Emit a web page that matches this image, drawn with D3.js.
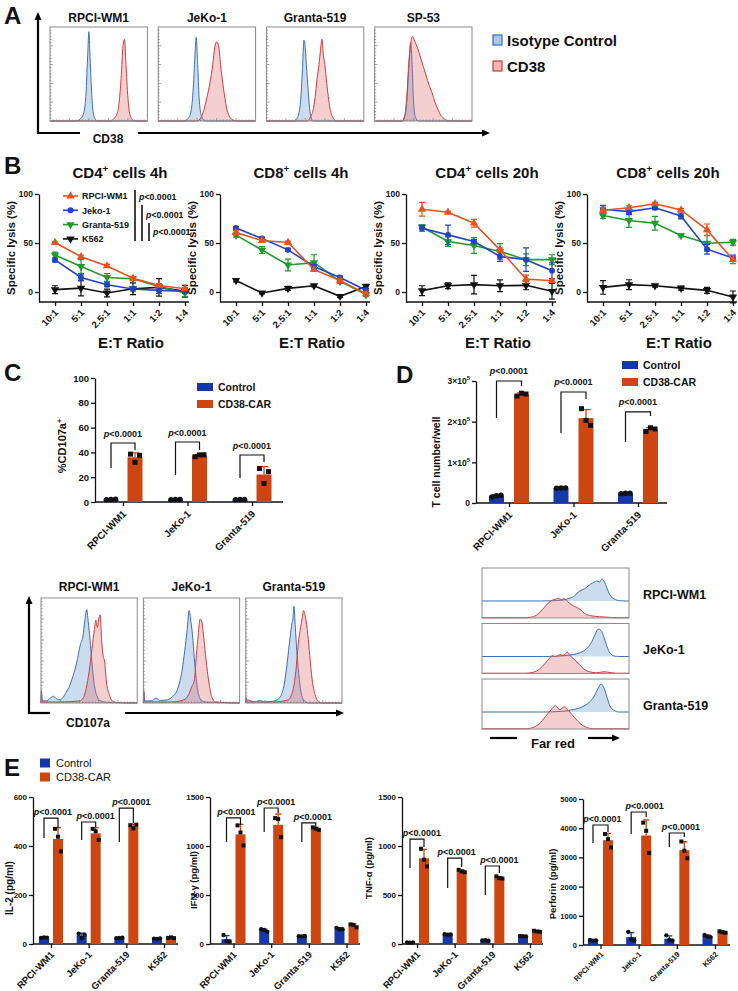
<!DOCTYPE html>
<html><head><meta charset="utf-8">
<script src="https://cdn.jsdelivr.net/npm/d3@7"></script>
<style>body{margin:0;background:#fff}svg{display:block}text{font-family:"Liberation Sans",Arial,sans-serif}</style>
</head><body><svg id="fig" width="738" height="991"></svg>
<script>
// ================= DATA =================
// Panel A: flow histograms (x: relative fluorescence 0..1, y: relative count 0..1)
const cellsA = ["RPCI-WM1","JeKo-1","Granta-519","SP-53"];
const isoA = [
 [[0.26,0],[0.32,0.03],[0.35,0.1],[0.37,0.3],[0.385,0.65],[0.40,0.95],[0.41,0.7],[0.425,0.35],[0.44,0.12],[0.46,0.03],[0.49,0]],
 [[0.26,0],[0.31,0.03],[0.34,0.12],[0.36,0.35],[0.38,0.75],[0.39,0.89],[0.405,0.6],[0.42,0.25],[0.44,0.07],[0.47,0.01],[0.5,0]],
 [[0.28,0],[0.32,0.04],[0.35,0.2],[0.37,0.55],[0.385,0.86],[0.395,0.82],[0.41,0.6],[0.43,0.3],[0.45,0.08],[0.48,0]],
 [[0.28,0],[0.31,0.05],[0.33,0.2],[0.35,0.55],[0.37,0.84],[0.385,0.6],[0.40,0.2],[0.42,0.04],[0.45,0]]
];
const cd38A = [
 [[0.62,0],[0.66,0.03],[0.69,0.08],[0.71,0.2],[0.73,0.45],[0.75,0.8],[0.765,0.87],[0.78,0.6],[0.80,0.25],[0.82,0.07],[0.85,0.01],[0.88,0]],
 [[0.40,0],[0.44,0.04],[0.47,0.12],[0.50,0.25],[0.53,0.4],[0.56,0.6],[0.58,0.78],[0.60,0.84],[0.62,0.8],[0.64,0.6],[0.67,0.35],[0.70,0.15],[0.73,0.05],[0.77,0.01],[0.82,0]],
 [[0.42,0],[0.45,0.04],[0.48,0.12],[0.50,0.25],[0.52,0.45],[0.54,0.6],[0.555,0.75],[0.57,0.87],[0.585,0.7],[0.60,0.6],[0.62,0.4],[0.65,0.15],[0.68,0.04],[0.72,0]],
 [[0.28,0],[0.31,0.06],[0.33,0.25],[0.35,0.6],[0.37,0.82],[0.39,0.9],[0.41,0.85],[0.44,0.78],[0.47,0.68],[0.50,0.58],[0.53,0.48],[0.56,0.38],[0.59,0.3],[0.62,0.2],[0.65,0.12],[0.68,0.06],[0.72,0.02],[0.76,0]]
];

// Panel B: specific lysis (%)
const ratios = ["10:1","5:1","2.5:1","1:1","1:2","1:4"];
const lysisLines = ["RPCI-WM1","Jeko-1","Granta-519","K562"];
const cd4_4h    = [[50.5,36,26.6,14,6.7,3.4],[32.7,14.8,7.4,3,1.7,0.7],[37.7,26,14.8,13.5,5.7,-1],[2.4,4,-1,3.4,4.7,0.7]];
const cd4_4h_sd = [[1,1.5,1.5,1.5,1,1],[2,3.5,2,2,3,2.5],[3,7,4,2,3,4],[4,8,4,6,9,6]];
const cd8_4h    = [[60.6,52.5,50.5,23,11.8,-2],[65.3,54.5,43,26,14.8,1.7],[58,42.8,27.6,30,10.8,-2.7],[11.8,-1,3.7,6.4,-4.4,5.7]];
const cd8_4h_sd = [[2,1.5,1.5,2,1.5,2],[1.5,1.5,1.5,2,1.5,2],[2,3.5,6,8,2,2],[1.5,1,2,1,1,2]];
const cd4_20h    = [[84.4,81.4,70.2,43,13.2,11.5],[65,58.3,51.5,36.3,33,21.7],[66.4,51.5,47.5,41.4,33,33],[1.4,6.4,7.5,6.4,6.8,0.7]];
const cd4_20h_sd = [[7,1,4,2,4,1.5],[3,10,2,5,12,8],[2,5,8,8,6,5],[5,3,9.5,6,4.5,8]];
const cd8_20h    = [[83.4,86,90,83.7,63.4,33],[84.4,82,86,77.6,43.7,34.6],[78,73,70.2,57.6,49.8,50.8],[4.7,7.5,6.4,4,1.7,-5]];
const cd8_20h_sd = [[3,2,1.5,1.5,6,4],[4,3,2,3,5,3],[3,7,7,1.5,8,3],[7,5,1.5,2,3,6]];

// Panel C: %CD107a+ (replicates); brackets: [left leg end, top, right leg end]
const groups = ["Control","CD38-CAR"];
const cd107Cells = ["RPCI-WM1","JeKo-1","Granta-519"];
const cd107Ctrl = [[1.8,2.0,2.2],[1.9,2.0,2.1],[1.8,2.1,2.0]];
const cd107Car  = [[38.6,32.0,37.6],[36.5,38.0,38.1],[27.0,15.0,24.5]];
const cd107P    = [[27.4,47.6,41.9],[21.8,48.4,41.9],[19.4,37.9,32.3]];
// Panel C lower: CD107a histograms
const cd107HistCtrl = [
 [[0.004,0.12],[0.012,0.02],[0.06,0.02],[0.10,0.05],[0.13,0.065],[0.16,0.04],[0.20,0.03],[0.26,0.1],[0.30,0.17],[0.33,0.25],[0.37,0.38],[0.41,0.56],[0.435,0.63],[0.455,0.78],[0.475,0.89],[0.49,0.78],[0.51,0.6],[0.53,0.38],[0.55,0.2],[0.58,0.07],[0.62,0.02],[0.7,0.005]],
 [[0.004,0.1],[0.012,0.02],[0.08,0.02],[0.13,0.045],[0.17,0.025],[0.25,0.03],[0.3,0.06],[0.35,0.12],[0.40,0.3],[0.43,0.5],[0.455,0.7],[0.475,0.88],[0.49,0.8],[0.51,0.65],[0.53,0.42],[0.56,0.15],[0.59,0.04],[0.64,0.01]],
 [[0.004,0.05],[0.012,0.01],[0.1,0.01],[0.14,0.025],[0.2,0.01],[0.3,0.02],[0.36,0.06],[0.40,0.18],[0.43,0.38],[0.46,0.62],[0.48,0.76],[0.49,0.8],[0.50,0.92],[0.515,0.72],[0.53,0.5],[0.55,0.28],[0.575,0.1],[0.6,0.03],[0.65,0]]
];
const cd107HistCar = [
 [[0.004,0.1],[0.012,0.01],[0.2,0.01],[0.4,0.02],[0.44,0.05],[0.47,0.14],[0.50,0.3],[0.53,0.52],[0.555,0.7],[0.57,0.79],[0.585,0.72],[0.60,0.8],[0.615,0.84],[0.63,0.6],[0.645,0.45],[0.66,0.4],[0.68,0.2],[0.71,0.08],[0.74,0.02],[0.78,0.005]],
 [[0.004,0.12],[0.012,0.01],[0.3,0.01],[0.42,0.03],[0.47,0.08],[0.5,0.15],[0.53,0.22],[0.55,0.45],[0.57,0.65],[0.59,0.8],[0.605,0.78],[0.63,0.6],[0.65,0.42],[0.68,0.2],[0.71,0.06],[0.75,0.01]],
 [[0.004,0.03],[0.1,0.01],[0.3,0.01],[0.44,0.03],[0.49,0.12],[0.52,0.3],[0.55,0.6],[0.57,0.72],[0.585,0.8],[0.60,0.88],[0.62,0.82],[0.645,0.65],[0.665,0.45],[0.69,0.22],[0.72,0.08],[0.76,0.01],[0.8,0]]
];

// Panel D: T cell number/well
const tcellCells = ["RPCI-WM1","JeKo-1","Granta-519"];
const tcellCtrl = [[15000,18000,19000],[36000,37000,37000],[23000,24000,24000]];
const tcellCar  = [[263000,270000,268000],[232000,203000,191000],[176000,185000,182000]];
const tcellP    = [[209000,300000,288000],[172000,273000,256000],[150000,224000,214000]];
// Panel D lower: Far red histograms (blue = Control, red = CD38-CAR)
const farRedCtrl = [
 [[0.4,0],[0.48,0.005],[0.55,0.02],[0.6,0.06],[0.63,0.1],[0.655,0.18],[0.68,0.22],[0.71,0.27],[0.74,0.34],[0.765,0.38],[0.78,0.4],[0.80,0.38],[0.815,0.44],[0.83,0.4],[0.85,0.26],[0.87,0.12],[0.9,0.04],[0.94,0.005],[0.98,0]],
 [[0.42,0],[0.55,0.015],[0.62,0.04],[0.67,0.08],[0.71,0.15],[0.74,0.26],[0.77,0.44],[0.79,0.55],[0.81,0.52],[0.83,0.38],[0.85,0.2],[0.87,0.07],[0.9,0.01],[0.93,0]],
 [[0.42,0],[0.55,0.015],[0.62,0.05],[0.68,0.1],[0.72,0.17],[0.76,0.3],[0.79,0.47],[0.81,0.56],[0.83,0.48],[0.85,0.3],[0.87,0.12],[0.9,0.03],[0.93,0]]
];
const farRedCar = [
 [[0.28,0],[0.33,0.01],[0.37,0.05],[0.41,0.16],[0.44,0.26],[0.47,0.34],[0.50,0.37],[0.52,0.39],[0.54,0.36],[0.56,0.38],[0.59,0.3],[0.62,0.24],[0.65,0.2],[0.67,0.16],[0.70,0.08],[0.74,0.04],[0.8,0.02],[0.88,0.005],[0.93,0]],
 [[0.3,0],[0.35,0.02],[0.39,0.08],[0.43,0.2],[0.46,0.3],[0.48,0.35],[0.50,0.33],[0.53,0.37],[0.555,0.36],[0.58,0.42],[0.60,0.35],[0.63,0.27],[0.66,0.18],[0.69,0.09],[0.73,0.03],[0.78,0.01],[0.83,0.03],[0.88,0.01],[0.92,0]],
 [[0.3,0],[0.35,0.03],[0.39,0.1],[0.43,0.24],[0.47,0.38],[0.50,0.46],[0.53,0.38],[0.56,0.44],[0.59,0.36],[0.63,0.22],[0.67,0.1],[0.71,0.03],[0.76,0]]
];

// Panel E: cytokines (pg/ml)
const cytoCells = ["RPCI-WM1","JeKo-1","Granta-519","K562"];
const il2Ctrl = [[25,27,26],[42,25,38],[24,25,26],[22,21,23]];
const il2Car  = [[470,438,378],[470,460,425],[485,472,487],[25,27,24]];
const il2P    = [[433,514,473],[424,498,478],[416,555,494]];
const ifnCtrl = [[92,31,24],[150,143,126],[80,78,82],[165,150,150]];
const ifnCar  = [[1210,1138,1006],[1285,1275,1090],[1190,1175,1165],[200,195,170]];
const ifnP    = [[1041,1286,1214],[1143,1388,1337],[1041,1235,1194]];
const tnfCtrl = [[15,14,16],[100,95,98],[35,38,33],[82,80,78]];
const tnfCar  = [[972,860,791],[757,740,733],[690,672,668],[135,128,125]];
const tnfP    = [[776,1071,990],[571,877,786],[500,796,724]];
const perfCtrl = [[170,150,160],[450,200,160],[330,170,150],[340,290,270]];
const perfCar  = [[3800,3625,3340],[4190,3910,3150],[3545,3230,2970],[470,440,420]];
const perfP    = [[3493,4110,3870],[3802,4555,4384],[3356,3836,3699]];

// ================= DRAWING =================
const svg = d3.select("#fig");
const FONT = '"Liberation Sans", Arial, sans-serif';
const lysisColors = ["#E8521F","#2343C6","#1F9A2C","#111111"];
const BAR_CTRL = "#1637A8", BAR_CAR = "#CD4511";
const ISO_FILL = "rgba(100,150,205,0.33)", ISO_STROKE = "#3B6FB6";
const RED_FILL = "rgba(225,105,110,0.33)", RED_STROKE = "#CF3D3F";
const intFmt = d3.format("d");

function text(x,y,s,size,weight="bold",anchor="start",g=svg){
  return g.append("text").attr("x",x).attr("y",y).attr("font-size",size)
    .attr("font-weight",weight).attr("text-anchor",anchor).attr("fill","#111").text(s);
}
function supText(x,y,main,sup,rest,size,anchor="middle",rot=null){
  const t=svg.append("text").attr("x",x).attr("y",y).attr("font-size",size).attr("font-weight","bold")
    .attr("text-anchor",anchor).attr("fill","#111");
  if(rot) t.attr("transform",rot);
  t.append("tspan").text(main);
  t.append("tspan").attr("dy",-size*0.4).attr("font-size",size*0.65).text(sup);
  if(rest) t.append("tspan").attr("dy",size*0.4).text(rest);
  return t;
}
function pText(g,x,y,size){
  const t=g.append("text").attr("x",x).attr("y",y).attr("font-size",size).attr("font-weight","bold")
    .attr("text-anchor","middle").attr("fill","#111");
  t.append("tspan").attr("font-style","italic").text("p");
  t.append("tspan").text("<0.0001");
  return t;
}
function arrow(x1,y1,x2,y2,w=2.2,hl=8,hw=7){
  const dx=x2-x1, dy=y2-y1, L=Math.hypot(dx,dy), ux=dx/L, uy=dy/L;
  const bx=x2-ux*hl, by=y2-uy*hl;
  svg.append("line").attr("x1",x1).attr("y1",y1).attr("x2",bx).attr("y2",by).attr("stroke","#000").attr("stroke-width",w);
  svg.append("path").attr("d",`M${x2},${y2}L${bx-uy*hw/2},${by+ux*hw/2}L${bx+uy*hw/2},${by-ux*hw/2}Z`).attr("fill","#000");
}
function seg(x1,y1,x2,y2,w=2.2,col="#000"){
  svg.append("line").attr("x1",x1).attr("y1",y1).attr("x2",x2).attr("y2",y2).attr("stroke",col).attr("stroke-width",w);
}
function styleAxis(g,size){
  g.attr("font-family",FONT).attr("font-size",size).attr("font-weight","bold");
  g.selectAll("path,line").attr("stroke","#111").attr("stroke-width",1.3);
  g.selectAll("text").attr("fill","#111");
}
function rotateTicks(g,sx,sy){
  const a=0.7071*(sx-sy), b=0.7071*(sx+sy);
  g.selectAll(".tick text").attr("transform","rotate(-45)").attr("text-anchor","end")
    .attr("x",a).attr("y",b).attr("dy","0.35em");
}
function drawHist(x0,y0,w,h,curves,ticks){
  const g=svg.append("g");
  const xs=d3.scaleLinear().domain([0,1]).range([x0,x0+w]);
  curves.forEach(c=>{
    const yb=y0+h-c.base*h;
    const ys=d3.scaleLinear().domain([0,1]).range([yb,yb-h]);
    const pts=[[0,0],...c.data,[1,0]];
    const area=d3.area().x(d=>xs(d[0])).y0(yb).y1(d=>ys(d[1])).curve(d3.curveMonotoneX);
    const line=d3.line().x(d=>xs(d[0])).y(d=>ys(d[1])).curve(d3.curveMonotoneX);
    g.append("path").attr("d",area(pts)).attr("fill",c.fill);
    g.append("path").attr("d",line(pts)).attr("fill","none").attr("stroke",c.stroke).attr("stroke-width",c.sw||1);
  });
  g.append("rect").attr("x",x0).attr("y",y0).attr("width",w).attr("height",h)
    .attr("fill","none").attr("stroke","#8a8a8a").attr("stroke-width",1);
  if(ticks){
    for(let i=1;i<30;i++){
      const L=(i%6===0)?3:1.5;
      const yy=y0+h-i*h/30;
      g.append("line").attr("x1",x0).attr("x2",x0+L).attr("y1",yy).attr("y2",yy).attr("stroke","#777").attr("stroke-width",0.7);
      const xx=x0+i*w/30;
      g.append("line").attr("x1",xx).attr("x2",xx).attr("y1",y0+h).attr("y2",y0+h-L).attr("stroke","#777").attr("stroke-width",0.7);
    }
  }
}

// ---------- Panel A ----------
text(4,24,"A",24);
const bandA=d3.scaleBand().domain(cellsA).range([50,472]).paddingInner(0.1);
cellsA.forEach((c,i)=>{
  const x0=bandA(c), w=bandA.bandwidth();
  text(x0+w/2,22,c,12,"bold","middle");
  drawHist(x0,27,w,94,[
    {base:0,data:isoA[i],fill:ISO_FILL,stroke:ISO_STROKE},
    {base:0,data:cd38A[i],fill:RED_FILL,stroke:RED_STROKE}],true);
});
arrow(38,134,38,12);
seg(37,133,80,133);
text(108,143,"CD38",12,"bold","middle");
arrow(138,133,490,133);
// legend A
svg.append("rect").attr("x",493).attr("y",35).attr("width",9).attr("height",10).attr("fill","#A9C8EA").attr("stroke","#2E6FC0").attr("stroke-width",1.2);
text(507,46,"Isotype Control",15);
svg.append("rect").attr("x",493).attr("y",61).attr("width",9).attr("height",10).attr("fill","#F2B5B5").attr("stroke","#C83A3A").attr("stroke-width",1.2);
text(507,72,"CD38",15);

// ---------- Panel B ----------
text(4,174,"B",24);
const symUp=d3.symbol().type(d3.symbolTriangle).size(30)();
const symCircle=d3.symbol().type(d3.symbolCircle).size(28)();
const lysisSyms=[symUp,symCircle,symUp,symUp];
const lysisRot=[0,0,180,180];

function lysisChart(ax,cd,sup,time,means,sds,legend){
  const g=svg.append("g");
  const x=d3.scalePoint().domain(ratios).range([ax+16,ax+146]);
  const y=d3.scaleLinear().domain([-10.2,100]).range([302,194]);
  const yg=g.append("g").attr("transform",`translate(${ax},0)`)
    .call(d3.axisLeft(y).tickValues([0,50,100]).tickSize(4).tickSizeOuter(0).tickPadding(2));
  styleAxis(yg,8.5);
  const xg=g.append("g").attr("transform","translate(0,302)")
    .call(d3.axisBottom(x).tickSize(4).tickSizeOuter(0));
  xg.select(".domain").remove();
  styleAxis(xg,9.5);
  rotateTicks(xg,1,9);
  g.append("line").attr("x1",ax).attr("x2",ax+150).attr("y1",302).attr("y2",302).attr("stroke","#111").attr("stroke-width",1.3);
  [3,2,1,0].forEach(i=>{
    const col=lysisColors[i];
    const line=d3.line().x((d,k)=>x(ratios[k])).y(d=>y(d));
    g.append("path").attr("d",line(means[i])).attr("fill","none").attr("stroke",col).attr("stroke-width",1.6);
    means[i].forEach((m,k)=>{
      const s=sds[i][k], cx=x(ratios[k]);
      g.append("path").attr("d",`M${cx},${y(m-s)}V${y(m+s)}M${cx-3},${y(m-s)}H${cx+3}M${cx-3},${y(m+s)}H${cx+3}`)
        .attr("stroke",col).attr("stroke-width",1.2).attr("fill","none");
    });
    g.selectAll(null).data(means[i]).enter().append("path").attr("d",lysisSyms[i])
      .attr("transform",(d,k)=>`translate(${x(ratios[k])},${y(d)}) rotate(${lysisRot[i]})`).attr("fill",col);
  });
  supText(ax+81,178,cd,"+"," cells "+time,15);
  svg.append("text").attr("transform",`translate(${ax-24},248) rotate(-90)`).attr("text-anchor","middle")
    .attr("font-size",11.5).attr("font-weight","bold").attr("fill","#111").text("Specific lysis (%)");
  text(ax+92,348,"E:T Ratio",15,"bold","middle");
  if(legend){
    lysisLines.forEach((s,i)=>{
      const yy=196+i*14.3;
      g.append("line").attr("x1",ax+24).attr("x2",ax+39).attr("y1",yy).attr("y2",yy).attr("stroke",lysisColors[i]).attr("stroke-width",1.6);
      g.append("path").attr("d",lysisSyms[i]).attr("transform",`translate(${ax+31.5},${yy}) rotate(${lysisRot[i]})`).attr("fill",lysisColors[i]);
      text(ax+43,yy+3.2,s,9,"bold","start",g);
    });
    const bx=[ax+96,ax+103,ax+110], btop=[190,205,223], tb=[200,218,235];
    bx.forEach((b,i)=>{
      g.append("line").attr("x1",b).attr("x2",b).attr("y1",btop[i]).attr("y2",241).attr("stroke","#111").attr("stroke-width",1.6);
      const t=pText(g,b+4,tb[i],8.8); t.attr("text-anchor","start");
    });
  }
}
lysisChart(39,"CD4","+","4h",cd4_4h,cd4_4h_sd,true);
lysisChart(220,"CD8","+","4h",cd8_4h,cd8_4h_sd,false);
lysisChart(406,"CD4","+","20h",cd4_20h,cd4_20h_sd,false);
lysisChart(587,"CD8","+","20h",cd8_20h,cd8_20h_sd,false);

// ---------- Bar chart helper ----------
function barChart(o){
  const g=svg.append("g");
  const y=d3.scaleLinear().domain([0,o.max]).range([o.y0,o.y1]);
  const x=d3.scalePoint().domain(o.cells).range([o.c0,o.c1]);
  const xs=d3.scalePoint().domain(groups).range([-o.off,o.off]);
  const ya=d3.axisLeft(y).tickValues(o.ticks).tickFormat(intFmt).tickSize(4).tickSizeOuter(0).tickPadding(2);
  const yg=g.append("g").attr("transform",`translate(${o.ax},0)`).call(ya);
  styleAxis(yg,o.tfs);
  if(o.sci){
    yg.selectAll(".tick text").each(function(d){
      const t=d3.select(this); t.text(null);
      if(d===0){t.text("0");return;}
      t.append("tspan").text((d/1e5)+"×10");
      t.append("tspan").attr("dy",-4).attr("font-size",6).text("5");
    });
  }
  const xg=g.append("g").attr("transform",`translate(0,${o.y0})`).call(d3.axisBottom(x).tickSize(4).tickSizeOuter(0));
  xg.select(".domain").remove();
  styleAxis(xg,o.xfs);
  rotateTicks(xg,o.lx||0,o.ly||10);
  g.append("line").attr("x1",o.ax).attr("x2",o.axEnd).attr("y1",o.y0).attr("y2",o.y0).attr("stroke","#111").attr("stroke-width",1.3);
  const sets=[o.ctrl,o.car], cols=[BAR_CTRL,BAR_CAR];
  const jit=[-0.3,0,0.3];
  o.cells.forEach((c,i)=>{
    groups.forEach((gr,j)=>{
      const vals=sets[j][i], m=d3.mean(vals), sd=d3.deviation(vals);
      const cx=x(c)+xs(gr);
      g.append("rect").attr("x",cx-o.bw/2).attr("y",y(m)).attr("width",o.bw).attr("height",o.y0-y(m)).attr("fill",cols[j]);
      g.append("path").attr("d",`M${cx},${y(m)}V${y(m+sd)}M${cx-o.bw*0.3},${y(m+sd)}H${cx+o.bw*0.3}`)
        .attr("stroke",cols[j]).attr("stroke-width",1.3).attr("fill","none");
      vals.forEach((v,k)=>{
        const px=cx+jit[k]*o.bw, py=y(v);
        if(j===0) g.append("circle").attr("cx",px).attr("cy",py).attr("r",o.ms*0.55).attr("fill","#111");
        else g.append("rect").attr("x",px-o.ms/2).attr("y",py-o.ms/2).attr("width",o.ms).attr("height",o.ms).attr("fill","#111");
      });
    });
  });
  o.p.forEach((b,i)=>{
    const xl=x(o.cells[i])+xs("Control"), xr=x(o.cells[i])+xs("CD38-CAR");
    g.append("path").attr("d",`M${xl},${y(b[0])}V${y(b[1])}H${xr}V${y(b[2])}`).attr("fill","none").attr("stroke","#111").attr("stroke-width",1.2);
    const dx=o.pdx?o.pdx[i]:0;
    pText(g,(xl+xr)/2+dx,y(b[1])-o.pgap,o.pfs);
  });
  return g;
}

// ---------- Panel C ----------
text(4,381,"C",24);
barChart({ax:95,axEnd:283,y0:502,y1:378,max:100,ticks:[0,20,40,60,80,100],tfs:9.5,xfs:10,
  cells:cd107Cells,c0:123,c1:252,off:12,bw:15,ms:5,ctrl:cd107Ctrl,car:cd107Car,p:cd107P,pgap:6,pfs:9,lx:1,ly:10});
supText(0,0,"%CD107a","+",null,11,"middle","translate(66,446) rotate(-90)");
[["Control",BAR_CTRL,387],["CD38-CAR",BAR_CAR,404]].forEach(d=>{
  svg.append("rect").attr("x",197).attr("y",d[2]-4).attr("width",16).attr("height",8).attr("fill",d[1]);
  text(218,d[2]+3.5,d[0],10.5);
});

// ---------- Panel D ----------
text(396,383,"D",24);
barChart({ax:476,axEnd:667,y0:503,y1:381,max:300000,ticks:[0,100000,200000,300000],tfs:8.5,xfs:10,sci:true,
  cells:tcellCells,c0:509,c1:638,off:12.5,bw:15,ms:5,ctrl:tcellCtrl,car:tcellCar,p:tcellP,pgap:7,pfs:9,lx:1,ly:10});
svg.append("text").attr("transform","translate(440,462) rotate(-90)").attr("text-anchor","middle")
  .attr("font-size",10.5).attr("font-weight","bold").attr("fill","#111").text("T cell number/well");
[["Control",BAR_CTRL,365],["CD38-CAR",BAR_CAR,382]].forEach(d=>{
  svg.append("rect").attr("x",622).attr("y",d[2]-4).attr("width",16).attr("height",8).attr("fill",d[1]);
  text(643,d[2]+3.5,d[0],10.5);
});

// ---------- Panel C lower: CD107a histograms ----------
const bandC=d3.scaleBand().domain(cd107Cells).range([41,342]).paddingInner(0.06);
cd107Cells.forEach((c,i)=>{
  const x0=bandC(c), w=bandC.bandwidth();
  text(x0+w/2,591,c,12,"bold","middle");
  drawHist(x0,598,w,105,[
    {base:0,data:cd107HistCtrl[i],fill:ISO_FILL,stroke:ISO_STROKE},
    {base:0,data:cd107HistCar[i],fill:RED_FILL,stroke:RED_STROKE}],true);
});
arrow(29,714,29,596);
seg(28,713,50,713);
text(88,727,"CD107a",12,"bold","middle");
arrow(125,713,344,713);

// ---------- Panel D lower: Far red histograms ----------
const bandD=d3.scaleBand().domain(tcellCells).range([568,729]).paddingInner(0.1);
tcellCells.forEach((c,i)=>{
  const y0=bandD(c), h=bandD.bandwidth();
  drawHist(482,y0,147,h,[
    {base:0.34,data:farRedCtrl[i],fill:ISO_FILL,stroke:ISO_STROKE},
    {base:0.005,data:farRedCar[i],fill:RED_FILL,stroke:RED_STROKE}],false);
  text(643,y0+h*0.62,c,12.5,"bold","start");
});
seg(490,738,517,738,2.2);
text(553,748,"Far red",13,"bold","middle");
arrow(588,738,620,738);

// ---------- Panel E ----------
text(4,776,"E",24);
[["Control",BAR_CTRL,763],["CD38-CAR",BAR_CAR,777]].forEach(d=>{
  svg.append("rect").attr("x",40).attr("y",d[2]-4.5).attr("width",10).attr("height",9).attr("fill",d[1]);
  text(56,d[2]+4,d[0],11,"normal");
});
function ylab(x,y,s,size){
  svg.append("text").attr("transform",`translate(${x},${y}) rotate(-90)`).attr("text-anchor","middle")
    .attr("font-size",size).attr("font-weight","bold").attr("fill","#111").text(s);
}
barChart({ax:33,axEnd:178,y0:944,y1:797,max:600,ticks:[0,200,400,600],tfs:8,xfs:9.5,
  cells:cytoCells,c0:51,c1:164,off:7,bw:10,ms:4,ctrl:il2Ctrl,car:il2Car,p:il2P,pgap:3,pfs:9,pdx:[2,7,5],lx:1,ly:9});
ylab(13,888,"IL-2 (pg/ml)",10);
barChart({ax:210,axEnd:360,y0:944,y1:797,max:1500,ticks:[0,500,1000,1500],tfs:8,xfs:9.5,
  cells:cytoCells,c0:233.5,c1:346.5,off:7,bw:10,ms:4,ctrl:ifnCtrl,car:ifnCar,p:ifnP,pgap:3,pfs:9,pdx:[3,5,4],lx:1,ly:9});
ylab(197,880,"IFN-γ (pg/ml)",9.5);
barChart({ax:402,axEnd:543,y0:944,y1:797,max:1500,ticks:[0,500,1000,1500],tfs:8,xfs:9.5,
  cells:cytoCells,c0:417,c1:530,off:7,bw:10,ms:4,ctrl:tnfCtrl,car:tnfCar,p:tnfP,pgap:3,pfs:9,pdx:[5,2,7],lx:1,ly:9});
ylab(372,868,"TNF-α (pg/ml)",9.5);
barChart({ax:583,axEnd:730,y0:945,y1:799,max:5000,ticks:[0,1000,2000,3000,4000,5000],tfs:7.5,xfs:7.5,
  cells:cytoCells,c0:600.5,c1:715,off:7.5,bw:10,ms:4,ctrl:perfCtrl,car:perfCar,p:perfP,pgap:3,pfs:9,pdx:[2,6,4],lx:1,ly:8});
ylab(556,884,"Perforin (pg/ml)",9.5);
</script>
</body></html>
